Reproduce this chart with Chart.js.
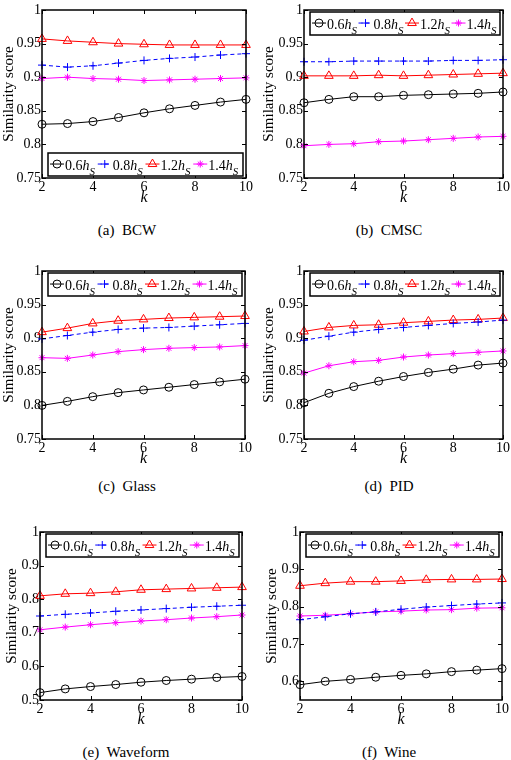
<!DOCTYPE html>
<html>
<head>
<meta charset="utf-8">
<script src="https://cdn.jsdelivr.net/npm/chart.js@4.4.1/dist/chart.umd.min.js"></script>
<style>
body { margin: 0; background: #fff; width: 511px; height: 760px; position: relative; overflow: hidden; }
canvas { position: absolute; }
.cap { position: absolute; width: 200px; text-align: center; font-family: 'Liberation Serif', serif; font-size: 15px; line-height: 18px; color: #000; white-space: pre; }
</style>
</head>
<body>
<script>
var kValues = [2, 3, 4, 5, 6, 7, 8, 9, 10];
var kTicks = [2, 4, 6, 8, 10];
var factorLabels = ['0.6', '0.8', '1.2', '1.4'];
var yTicksFine = [0.75, 0.8, 0.85, 0.9, 0.95, 1];
var yTicksWave = [0.5, 0.6, 0.7, 0.8, 0.9, 1];
var yTicksWine = [0.6, 0.7, 0.8, 0.9, 1];
var captions = ['(a)  BCW', '(b)  CMSC', '(c)  Glass', '(d)  PID', '(e)  Waveform', '(f)  Wine'];

// similarity score per k, one array per bandwidth factor
var bcw06 = [0.830, 0.831, 0.834, 0.840, 0.847, 0.853, 0.858, 0.863, 0.867];
var bcw08 = [0.918, 0.915, 0.917, 0.921, 0.925, 0.928, 0.930, 0.933, 0.935];
var bcw12 = [0.957, 0.954, 0.952, 0.950, 0.949, 0.948, 0.948, 0.948, 0.948];
var bcw14 = [0.898, 0.900, 0.898, 0.897, 0.895, 0.896, 0.897, 0.898, 0.899];

var cmsc06 = [0.862, 0.867, 0.871, 0.871, 0.873, 0.874, 0.875, 0.876, 0.878];
var cmsc08 = [0.923, 0.923, 0.924, 0.924, 0.924, 0.924, 0.925, 0.925, 0.926];
var cmsc12 = [0.902, 0.902, 0.902, 0.903, 0.902, 0.903, 0.904, 0.905, 0.906];
var cmsc14 = [0.798, 0.800, 0.801, 0.804, 0.805, 0.807, 0.809, 0.811, 0.812];

var glass06 = [0.800, 0.806, 0.813, 0.819, 0.823, 0.827, 0.831, 0.835, 0.839];
var glass08 = [0.899, 0.904, 0.909, 0.913, 0.915, 0.916, 0.918, 0.920, 0.922];
var glass12 = [0.909, 0.915, 0.922, 0.926, 0.928, 0.930, 0.931, 0.932, 0.933];
var glass14 = [0.871, 0.870, 0.875, 0.880, 0.883, 0.885, 0.886, 0.887, 0.889];

var pid06 = [0.804, 0.818, 0.828, 0.836, 0.843, 0.849, 0.854, 0.860, 0.863];
var pid08 = [0.897, 0.903, 0.909, 0.913, 0.916, 0.919, 0.922, 0.924, 0.927];
var pid12 = [0.910, 0.916, 0.919, 0.920, 0.923, 0.925, 0.927, 0.928, 0.930];
var pid14 = [0.848, 0.859, 0.865, 0.867, 0.872, 0.875, 0.877, 0.879, 0.881];

var wave06 = [0.522, 0.533, 0.540, 0.546, 0.553, 0.558, 0.562, 0.567, 0.570];
var wave08 = [0.750, 0.755, 0.759, 0.764, 0.768, 0.772, 0.776, 0.779, 0.782];
var wave12 = [0.810, 0.816, 0.818, 0.822, 0.828, 0.830, 0.832, 0.834, 0.836];
var wave14 = [0.709, 0.717, 0.724, 0.730, 0.735, 0.739, 0.744, 0.748, 0.753];

var wine06 = [0.591, 0.600, 0.605, 0.611, 0.616, 0.620, 0.626, 0.630, 0.634];
var wine08 = [0.765, 0.773, 0.781, 0.786, 0.793, 0.799, 0.803, 0.807, 0.810];
var wine12 = [0.856, 0.863, 0.867, 0.867, 0.869, 0.872, 0.873, 0.873, 0.874];
var wine14 = [0.775, 0.777, 0.781, 0.786, 0.788, 0.791, 0.792, 0.796, 0.797];

var FONT = 'Liberation Serif';

// line / marker look of the four series (matlab style)
var seriesStyle = [
    { color: '#000000', point: 'circle', radius: 4, dash: [] },
    { color: '#0000ff', point: 'cross', radius: 4, dash: [4, 3] },
    { color: '#ff0000', point: 'triangle', radius: 5, dash: [] },
    { color: '#ff00ff', point: 'star', radius: 3.5, dash: [] }
];

// plot rect [left, top, right, bottom] in page pixels
var panels = [
    { rect: [42, 10, 246, 178], left: 0, yMin: 0.75, yTicks: yTicksFine, legend: 'bottom', series: [bcw06, bcw08, bcw12, bcw14], titlePad: 0, capX: 127, capY: 230 },
    { rect: [304, 10, 506, 178], left: 256, yMin: 0.75, yTicks: yTicksFine, legend: 'top', series: [cmsc06, cmsc08, cmsc12, cmsc14], titlePad: 4, capX: 389, capY: 230 },
    { rect: [42, 271, 245, 439], left: 0, yMin: 0.75, yTicks: yTicksFine, legend: 'top', series: [glass06, glass08, glass12, glass14], titlePad: 0, capX: 127, capY: 486 },
    { rect: [304, 271, 506, 439], left: 256, yMin: 0.75, yTicks: yTicksFine, legend: 'top', series: [pid06, pid08, pid12, pid14], titlePad: 4, capX: 389, capY: 486 },
    { rect: [40, 532, 242, 700], left: 0, yMin: 0.5, yTicks: yTicksWave, legend: 'top', series: [wave06, wave08, wave12, wave14], titlePad: 3, capX: 126, capY: 752 },
    { rect: [300, 532, 502, 700], left: 256, yMin: 0.55, yTicks: yTicksWine, legend: 'top', series: [wine06, wine08, wine12, wine14], titlePad: 7, capX: 389, capY: 752 }
];

function drawMarker(ctx, style, r, x, y) {
    if (Chart.helpers && Chart.helpers.drawPoint) {
        Chart.helpers.drawPoint(ctx, { pointStyle: style, radius: r, rotation: 0, borderWidth: 1 }, x, y);
        return;
    }
    ctx.beginPath();
    ctx.arc(x, y, r, 0, Math.PI * 2);
    ctx.stroke();
}

// box, inward ticks and legend like the matlab figure
var matFrame = {
    id: 'matFrame',
    afterDatasetsDraw: function (chart, args, opts) {
        var ctx = chart.ctx, a = chart.chartArea;
        var xs = chart.scales.x, ys = chart.scales.y;
        ctx.save();
        ctx.strokeStyle = '#000';
        ctx.lineWidth = 1;
        ctx.beginPath();
        xs.ticks.forEach(function (t) {
            var px = Math.round(xs.getPixelForValue(t.value)) + 0.5;
            ctx.moveTo(px, a.bottom); ctx.lineTo(px, a.bottom - 4);
            ctx.moveTo(px, a.top); ctx.lineTo(px, a.top + 4);
        });
        ys.ticks.forEach(function (t) {
            var py = Math.round(ys.getPixelForValue(t.value)) + 0.5;
            ctx.moveTo(a.left, py); ctx.lineTo(a.left + 4, py);
            ctx.moveTo(a.right, py); ctx.lineTo(a.right - 4, py);
        });
        ctx.stroke();
        ctx.lineWidth = 1.5;
        ctx.strokeRect(a.left, a.top, a.right - a.left, a.bottom - a.top);

        // legend
        var bx = a.left + 6, bw = a.right - a.left - 9, bh = 23;
        var by = opts.legend === 'top' ? a.top + 2 : a.bottom - 2 - bh;
        ctx.fillStyle = '#fff';
        ctx.fillRect(bx, by, bw, bh);
        ctx.strokeStyle = '#000';
        ctx.lineWidth = 1.5;
        ctx.strokeRect(bx, by, bw, bh);
        var iw = (bw - 4) / 4;
        chart.data.datasets.forEach(function (ds, i) {
            var st = seriesStyle[i];
            var x0 = bx + 2 + i * iw, ym = by + bh * 0.48;
            ctx.strokeStyle = st.color;
            ctx.lineWidth = 1;
            ctx.setLineDash(st.dash);
            ctx.beginPath(); ctx.moveTo(x0, ym); ctx.lineTo(x0 + 14, ym); ctx.stroke();
            ctx.setLineDash([]);
            ctx.fillStyle = 'rgba(0,0,0,0)';
            drawMarker(ctx, st.point, st.radius, x0 + 7, ym);
            ctx.fillStyle = '#000';
            ctx.textAlign = 'left';
            ctx.textBaseline = 'alphabetic';
            var tx = x0 + 15;
            ctx.font = '14px "' + FONT + '"';
            ctx.fillText(factorLabels[i], tx, by + bh * 0.74);
            tx += ctx.measureText(factorLabels[i]).width;
            ctx.font = 'italic 14px "' + FONT + '"';
            ctx.fillText('h', tx, by + bh * 0.74);
            tx += ctx.measureText('h').width;
            ctx.font = 'italic 11px "' + FONT + '"';
            ctx.fillText('S', tx, by + bh * 0.97);
        });
        ctx.restore();
    }
};

panels.forEach(function (p, n) {
    var l = p.rect[0], t = p.rect[1], r = p.rect[2], b = p.rect[3];
    var cx = p.left, cy = t - 12, cw = 255, ch = b + 34 - cy;
    var cv = document.createElement('canvas');
    cv.width = cw; cv.height = ch;
    cv.style.left = cx + 'px'; cv.style.top = cy + 'px';
    cv.style.width = cw + 'px'; cv.style.height = ch + 'px';
    document.body.appendChild(cv);

    var cap = document.createElement('div');
    cap.className = 'cap';
    cap.textContent = captions[n];
    cap.style.left = (p.capX - 100) + 'px';
    cap.style.top = (p.capY - 9) + 'px';
    document.body.appendChild(cap);

    var datasets = p.series.map(function (vals, i) {
        var st = seriesStyle[i];
        return {
            label: factorLabels[i] + 'hS',
            data: kValues.map(function (k, j) { return { x: k, y: vals[j] }; }),
            borderColor: st.color,
            borderWidth: 1,
            borderDash: st.dash,
            pointStyle: st.point,
            pointRadius: st.radius,
            pointBorderColor: st.color,
            pointBackgroundColor: 'rgba(0,0,0,0)',
            pointBorderWidth: 1,
            tension: 0,
            clip: false
        };
    });

    new Chart(cv.getContext('2d'), {
        type: 'line',
        data: { datasets: datasets },
        options: {
            responsive: false,
            animation: false,
            events: [],
            layout: { padding: { top: t - cy, right: cx + cw - r, left: 0, bottom: 0 }, autoPadding: false },
            plugins: {
                legend: { display: false },
                tooltip: { enabled: false },
                matFrame: { legend: p.legend }
            },
            scales: {
                x: {
                    type: 'linear',
                    min: 2,
                    max: 10,
                    grid: { display: false, drawTicks: false },
                    border: { display: false },
                    afterBuildTicks: function (s) { s.ticks = kTicks.map(function (v) { return { value: v }; }); },
                    afterFit: function (s) { s.height = 34; },
                    ticks: { font: { family: FONT, size: 14 }, color: '#000', padding: 1, maxRotation: 0 },
                    title: {
                        display: true,
                        text: 'k',
                        color: '#000',
                        font: { family: FONT, size: 16, style: 'italic' },
                        padding: { top: 0, bottom: 5 }
                    }
                },
                y: {
                    type: 'linear',
                    min: p.yMin,
                    max: 1,
                    grid: { display: false, drawTicks: false },
                    border: { display: false },
                    afterBuildTicks: function (s) { s.ticks = p.yTicks.map(function (v) { return { value: v }; }); },
                    afterFit: function (s) { s.width = l - cx; },
                    ticks: {
                        font: { family: FONT, size: 14 },
                        color: '#000',
                        padding: 1,
                        callback: function (v) { return String(+Number(v).toFixed(2)); }
                    },
                    title: {
                        display: true,
                        text: 'Similarity score',
                        color: '#000',
                        font: { family: FONT, size: 15 },
                        padding: { top: p.titlePad, bottom: 0 }
                    }
                }
            }
        },
        plugins: [matFrame]
    });
});
</script>
</body>
</html>
